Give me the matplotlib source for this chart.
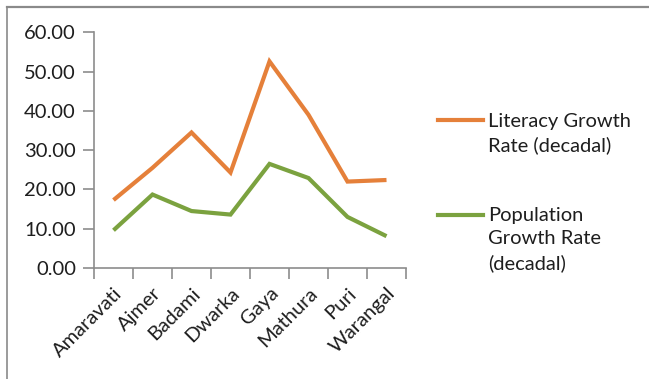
import matplotlib.pyplot as plt
from matplotlib.lines import Line2D

cities = ['Amaravati', 'Ajmer', 'Badami', 'Dwarka', 'Gaya', 'Mathura', 'Puri', 'Warangal']
literacy = [17.3, 25.5, 34.5, 24.3, 52.6, 39.0, 22.0, 22.4]
population = [9.6, 18.7, 14.5, 13.6, 26.5, 22.9, 13.0, 8.1]
literacy_label = 'Literacy Growth\nRate (decadal)'
population_label = 'Population\nGrowth Rate\n(decadal)'

orange = '#E5803A'
green = '#7BA23F'
axis_grey = '#8C8C8C'
text_col = '#1E1E1E'
fs = 14.5

plt.rcParams['font.family'] = ['Lato', 'DejaVu Sans']

fig = plt.figure(figsize=(6.49, 3.79), dpi=100)
ax = fig.add_axes([94 / 649, 1 - 268 / 379, (406 - 94) / 649, (268 - 32.3) / 379])

x = range(len(cities))
ax.plot(x, literacy, color=orange, linewidth=3, solid_joinstyle='miter', solid_capstyle='butt')
ax.plot(x, population, color=green, linewidth=3, solid_joinstyle='miter', solid_capstyle='butt')

ax.set_xlim(-0.5, len(cities) - 0.5)
ax.set_ylim(0, 60)
ax.set_yticks(range(0, 61, 10))
ax.set_yticklabels([f'{v:.2f}' for v in range(0, 61, 10)])
# tick marks between categories, names under the category centres
ax.set_xticks([i - 0.5 for i in range(len(cities) + 1)])
ax.set_xticklabels([])
ax.set_xticks(list(x), minor=True)
ax.set_xticklabels(cities, minor=True, rotation=45, ha='right', rotation_mode='anchor')

for side in ['top', 'right']:
    ax.spines[side].set_visible(False)
for side in ['left', 'bottom']:
    ax.spines[side].set_color(axis_grey)
    ax.spines[side].set_linewidth(1.2)

ax.tick_params(axis='y', which='major', length=8, width=1.2, color=axis_grey,
               labelsize=fs, labelcolor=text_col, pad=5)
ax.tick_params(axis='x', which='major', length=8, width=1.2, color=axis_grey)
ax.tick_params(axis='x', which='minor', length=0, labelsize=fs, labelcolor=text_col, pad=12)

# legend beside the plot, handle level with the first text line
fig.add_artist(Line2D([438 / 649, 483 / 649], [1 - 120 / 379] * 2, color=orange, linewidth=3))
fig.add_artist(Line2D([438 / 649, 483 / 649], [1 - 215 / 379] * 2, color=green, linewidth=3))
fig.text(488 / 649, 1 - 113 / 379, literacy_label, fontsize=fs, color=text_col,
         va='top', ha='left', linespacing=1.45)
fig.text(488 / 649, 1 - 207 / 379, population_label, fontsize=fs, color=text_col,
         va='top', ha='left', linespacing=1.45)

# frame edges of the chart area
fig.add_artist(Line2D([7 / 649, 1], [1 - 7 / 379] * 2, color='#8A8A8A', linewidth=1.6))
fig.add_artist(Line2D([7 / 649] * 2, [0, 1 - 7 / 379], color='#8A8A8A', linewidth=1.2))

fig.savefig('out.png', dpi=100)
